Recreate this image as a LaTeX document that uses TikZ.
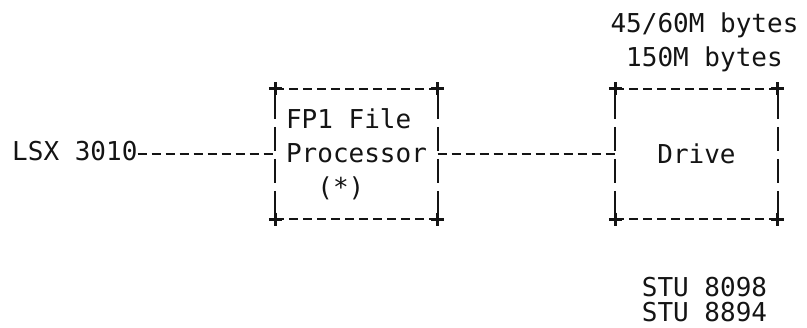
\documentclass[tikz,border=0pt]{standalone}
\usepackage{fontspec}
\setmonofont{DejaVu Sans Mono}
\usepackage{tikz}
\usetikzlibrary{positioning}
\definecolor{inkP}{HTML}{141414}

\begin{document}
\begin{tikzpicture}[x=1pt,y=-1pt,
    every node/.style={font=\ttfamily\fontsize{26}{34}\selectfont,text=inkP,inner sep=0pt},
    unit/.style={minimum width=162pt,minimum height=130pt},
    hrule/.style={inkP,line width=2.4pt,dash pattern=on 9pt off 5pt},
    vrule/.style={inkP,line width=1.8pt,dash pattern=on 24pt off 8pt,dash phase=-6pt},
    link/.style={hrule},
    cross/.style={minimum size=13pt,path picture={
        \draw[inkP,line width=2.8pt] (path picture bounding box.west) -- (path picture bounding box.east)
             (path picture bounding box.north) -- (path picture bounding box.south);}}]
  \useasboundingbox (0,0) rectangle (807,328);
  \node[anchor=west] (lsx) at (12,151) {LSX 3010};
  \node[unit,align=left] (fp) at (356.5,154) {FP1 File\\Processor\\~~(*)};
  \node[unit] (drive) at (696.5,154) {Drive};
  \node[align=center,above=17pt of drive,xshift=8pt] (cap) {45/60M bytes\\150M bytes};
  \node[align=center,below=58pt of drive,xshift=8pt,
        font=\ttfamily\fontsize{26}{25}\selectfont] (stu) {STU 8098\\STU 8894};
  % box outlines, typewriter style
  \foreach \b in {fp,drive} {
    \draw[hrule] (\b.north west) -- (\b.north east);
    \draw[hrule] (\b.south west) -- (\b.south east);
    \draw[vrule] (\b.north west) -- (\b.south west);
    \draw[vrule] (\b.north east) -- (\b.south east);
    \foreach \a in {north west,north east,south west,south east}
      \node[cross] (\b-\a) at (\b.\a) {};
  }
  \draw[link] (lsx.east |- fp.west) -- (fp.west);
  \draw[link] (fp.east) -- (drive.west);
\end{tikzpicture}
\end{document}
